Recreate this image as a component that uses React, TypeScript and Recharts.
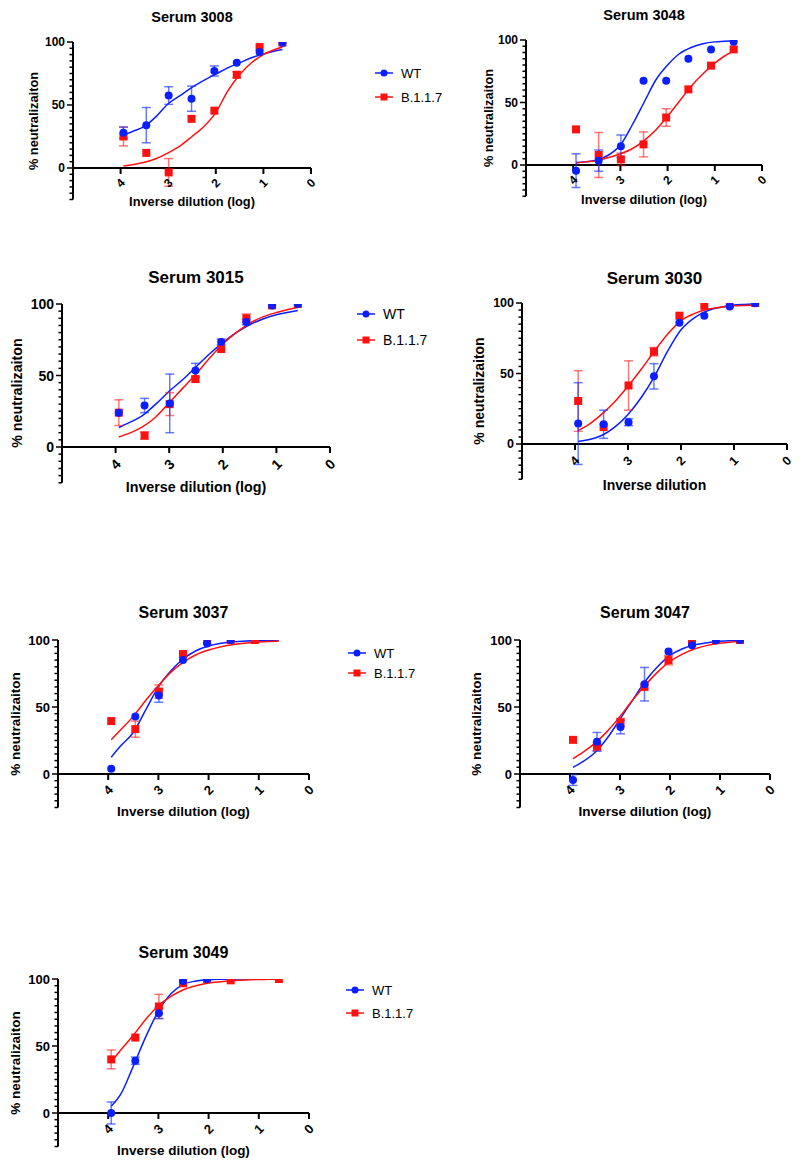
import React from "react";
import {
  ComposedChart,
  XAxis,
  YAxis,
  Line,
  Scatter,
  ErrorBar,
  ReferenceLine,
  ReferenceDot,
} from "recharts";

const FONT = "'Liberation Sans', Arial, sans-serif";
const BLUE = "#0a1eff";
const RED = "#ff1010";
const BLUE_ERR = "rgba(20,50,255,0.65)";
const RED_ERR = "rgba(255,30,30,0.6)";

// log10 of the inverse dilution for each well
const doseX = [3.94, 3.46, 2.99, 2.51, 2.03, 1.56, 1.08, 0.6];
const fitX = [3.94, 3.75, 3.5, 3.25, 3.0, 2.75, 2.5, 2.25, 2.0, 1.75, 1.5, 1.25, 1.0, 0.8, 0.6];
const xTicks = [4, 3, 2, 1, 0];
const yTicks = [-25, -20, -15, -10, -5, 0, 5, 10, 15, 20, 25, 30, 35, 40, 45, 50, 55, 60, 65, 70, 75, 80, 85, 90, 95, 100];
const seriesNames = ["WT", "B.1.1.7"];

// Serum 3008
const wt3008 = [28, 34, 57.5, 55, 77, 83.5, 92, 99.5];
const wt3008Err = [4.5, 14, 7, 10, 4, null, null, null];
const b3008 = [25, 12, -3.5, 39, 45.5, 74, 96, 99.5];
const b3008Err = [7.5, null, 11, null, null, 2.5, null, null];
const wt3008Fit = [26, 29, 33, 41, 51, 57.5, 64, 69.5, 74.5, 79.5, 83.5, 87.5, 90.5, 92.5, 94];
const b3008Fit = [1.5, 2.5, 4.5, 7.5, 12, 17.5, 25, 33, 44, 61, 74, 83.5, 90, 93.5, 96];

// Serum 3048
const wt3048 = [-4.5, 3.5, 15, 67.5, 67.5, 85, 92.5, 98.7];
const wt3048Err = [13.5, 8.5, 9, null, null, null, null, null];
const b3048 = [28.5, 8, 4.5, 16.5, 38, 60.5, 79.5, 92.5];
const b3048Err = [null, 18, 5, 10, 7, null, null, null];
const wt3048Fit = [2, 2.5, 4, 8, 16, 32, 50, 68, 80, 89, 94, 97, 98.5, 99, 99.5];
const b3048Fit = [1.5, 2.5, 3.5, 6, 9, 13, 19.5, 28, 39, 51, 63, 73, 81.5, 87, 91.5];

// Serum 3015
const wt3015 = [24, 29, 30.5, 53.5, 73.5, 87.5, 99, 100];
const wt3015Err = [null, 5, 20.5, 5, 2, 2, null, null];
const b3015 = [24, 8, 30, 47.5, 68.5, 90, 99, 100];
const b3015Err = [9, 2.5, 8, 2, null, 3, null, null];
const wt3015Fit = [13.6, 17, 22, 30, 39, 47, 56, 65, 73, 80, 85.5, 89.5, 92.5, 94, 95.5];
const b3015Fit = [7, 9.5, 14, 21, 31, 41, 51, 62, 72, 80, 86.5, 91, 94, 96, 97.5];

// Serum 3030
const wt3030 = [14.5, 14, 15.5, 48, 86, 91, 97.5, 99.8];
const wt3030Err = [29, 10, 2.5, 9, null, null, null, null];
const b3030 = [30.5, 12, 41.5, 65.5, 91, 98, 99.3, 100];
const b3030Err = [21.5, null, 17.5, 3, null, null, null, null];
const wt3030Fit = [1.8, 3, 6, 12, 21, 33, 48, 66, 81, 89.5, 94.5, 97, 98.5, 99, 99.4];
const b3030Fit = [9.5, 13.5, 21, 30, 41, 53, 66, 78, 87.5, 92.5, 95.5, 97, 98, 98.3, 98.5];

// Serum 3037
const wt3037 = [4, 43, 58.5, 85, 97.3, 100, null, null];
const wt3037Err = [null, null, 5, null, null, null, null, null];
const b3037 = [39.5, 33.5, 61.5, 89.5, 99.5, 100, 100, null];
const b3037Err = [null, 6, 5, null, null, null, null, null];
const wt3037Fit = [12.5, 21, 31, 48, 65, 77, 86, 92, 95.5, 97.5, 98.7, 99.3, 99.6, 99.8, 99.9];
const b3037Fit = [25.5, 33, 43, 55, 66, 76, 83.5, 89, 92.5, 95, 96.7, 97.8, 98.5, 98.9, 99.2];

// Serum 3047
const wt3047 = [-4.5, 24, 35, 67, 91.5, 96, 99.8, 100];
const wt3047Err = [4, 7, 5, 12.5, null, null, null, null];
const b3047 = [25.5, 20.5, 38.5, 65, 85, 98, 100, 100];
const b3047Err = [null, 3, 3, null, 3.5, null, null, null];
const wt3047Fit = [5, 9, 16, 27, 41, 55, 69, 80, 88.5, 93.5, 96.5, 98, 99, 99.4, 99.6];
const b3047Fit = [11.5, 16, 23, 32, 43, 55, 66, 76, 84, 89.5, 93.5, 96, 97.5, 98.3, 98.8];

// Serum 3049
const wt3049 = [0, 39, 74.5, 98.5, 100, null, null, null];
const wt3049Err = [8.2, 2.7, 4, null, null, null, null, null];
const b3049 = [40, 56.3, 79.5, 96.8, 100, 99, null, 100];
const b3049Err = [7, null, 9, null, null, null, null, null];
const wt3049Fit = [5, 14, 35, 57, 76, 89, 96, 98.5, 99.5, 99.8, 99.9, 100, 100, 100, 100];
const b3049Fit = [38, 47, 58, 70, 80, 87, 92, 95, 97, 98, 98.8, 99.3, 99.6, 99.8, 100];

const toPoints = (ys: (number | null)[], errs: (number | null)[]) =>
  doseX
    .map((x, i) => ({ x, y: ys[i], err: errs[i] }))
    .filter((p) => p.y != null);

const toFit = (ys: number[]) => fitX.map((x, i) => ({ x, y: ys[i] }));

const panels = [
  {
    title: "Serum 3008", xLabel: "Inverse dilution (log)",
    wt: wt3008, wtErr: wt3008Err, b: b3008, bErr: b3008Err, wtFit: wt3008Fit, bFit: b3008Fit,
    pl: 73, pr: 311, pt: 42, pz: 168, titleY: 17, titleFs: 14.5, labelFs: 12.8, tickFs: 12,
    yLabelX: 34, xLabelY: 202, legend: { lx: 375, y1: 73, y2: 97, fs: 13 },
  },
  {
    title: "Serum 3048", xLabel: "Inverse dilution (log)",
    wt: wt3048, wtErr: wt3048Err, b: b3048, bErr: b3048Err, wtFit: wt3048Fit, bFit: b3048Fit,
    pl: 526, pr: 762, pt: 40, pz: 165, titleY: 15, titleFs: 14.5, labelFs: 12.8, tickFs: 12,
    yLabelX: 489, xLabelY: 200,
  },
  {
    title: "Serum 3015", xLabel: "Inverse dilution (log)",
    wt: wt3015, wtErr: wt3015Err, b: b3015, bErr: b3015Err, wtFit: wt3015Fit, bFit: b3015Fit,
    pl: 62, pr: 330, pt: 304, pz: 447, titleY: 277, titleFs: 17, labelFs: 14.3, tickFs: 14,
    yLabelX: 17, xLabelY: 487, legend: { lx: 357, y1: 314, y2: 340, fs: 14 },
  },
  {
    title: "Serum 3030", xLabel: "Inverse dilution",
    wt: wt3030, wtErr: wt3030Err, b: b3030, bErr: b3030Err, wtFit: wt3030Fit, bFit: b3030Fit,
    pl: 522, pr: 787, pt: 303, pz: 444, titleY: 278, titleFs: 17, labelFs: 14, tickFs: 12.5,
    yLabelX: 479, xLabelY: 485,
  },
  {
    title: "Serum 3037", xLabel: "Inverse dilution (log)",
    wt: wt3037, wtErr: wt3037Err, b: b3037, bErr: b3037Err, wtFit: wt3037Fit, bFit: b3037Fit,
    pl: 58, pr: 309, pt: 640, pz: 774, titleY: 613, titleFs: 16, labelFs: 13.5, tickFs: 13,
    yLabelX: 16, xLabelY: 812, legend: { lx: 348, y1: 653, y2: 673, fs: 13 },
  },
  {
    title: "Serum 3047", xLabel: "Inverse dilution (log)",
    wt: wt3047, wtErr: wt3047Err, b: b3047, bErr: b3047Err, wtFit: wt3047Fit, bFit: b3047Fit,
    pl: 520, pr: 770, pt: 640, pz: 774, titleY: 613, titleFs: 16, labelFs: 13.5, tickFs: 13,
    yLabelX: 477, xLabelY: 812,
  },
  {
    title: "Serum 3049", xLabel: "Inverse dilution (log)",
    wt: wt3049, wtErr: wt3049Err, b: b3049, bErr: b3049Err, wtFit: wt3049Fit, bFit: b3049Fit,
    pl: 58, pr: 309, pt: 979, pz: 1113, titleY: 953, titleFs: 16, labelFs: 13.5, tickFs: 13,
    yLabelX: 16, xLabelY: 1151, legend: { lx: 346, y1: 990, y2: 1013, fs: 13 },
  },
];

const YTick = (props: any) => {
  const { x, y, payload, fs } = props;
  const v = payload.value;
  const major = v % 50 === 0;
  return (
    <g>
      <line x1={x} x2={x - (major ? 6 : 3.5)} y1={y} y2={y} stroke="#000" strokeWidth={1.5} />
      {major && (
        <text x={x - 8} y={y} textAnchor="end" dominantBaseline="central"
          fontSize={fs} fontWeight="bold" fontFamily={FONT} fill="#000">
          {v}
        </text>
      )}
    </g>
  );
};

const XTick = ({ cx, cy, value, fs, off }: any) => (
  <g>
    <line x1={cx} x2={cx} y1={cy} y2={cy + 6} stroke="#000" strokeWidth={2} />
    <text x={cx} y={cy + off} textAnchor="middle" dominantBaseline="central"
      transform={`rotate(-45 ${cx} ${cy + off})`}
      fontSize={fs} fontWeight="bold" fontFamily={FONT} fill="#000">
      {value}
    </text>
  </g>
);

const circleShape = (p: any) => <circle cx={p.cx} cy={p.cy} r={4} fill={BLUE} />;
const squareShape = (p: any) => <rect x={p.cx - 4} y={p.cy - 4} width={8} height={8} fill={RED} />;

const SeriesLegend = ({ lx, y1, y2, fs }: any) => (
  <svg style={{ position: "absolute", left: lx - 2, top: y1 - 12 }} width={110} height={y2 - y1 + 24}>
    <line x1={2} x2={20} y1={12} y2={12} stroke={BLUE} strokeWidth={1.5} />
    <circle cx={11} cy={12} r={3.5} fill={BLUE} />
    <text x={28} y={12} dominantBaseline="central" fontSize={fs} fontFamily={FONT} fill="#000">{seriesNames[0]}</text>
    <line x1={2} x2={20} y1={12 + y2 - y1} y2={12 + y2 - y1} stroke={RED} strokeWidth={1.5} />
    <rect x={7.5} y={8.5 + y2 - y1} width={7} height={7} fill={RED} />
    <text x={28} y={12 + y2 - y1} dominantBaseline="central" fontSize={fs} fontFamily={FONT} fill="#000">{seriesNames[1]}</text>
  </svg>
);

const Panel = ({ p }: any) => {
  const pxPerUnit = (p.pz - p.pt) / 100;
  const pb = p.pz + 25 * pxPerUnit;
  const cx = (p.pl + p.pr) / 2;
  const off = pxPerUnit * 12;
  const text = (extra: any) => ({
    position: "absolute" as const,
    whiteSpace: "nowrap" as const,
    fontFamily: FONT,
    fontWeight: "bold" as const,
    lineHeight: 1,
    color: "#000",
    ...extra,
  });
  return (
    <>
      <div style={text({ left: cx, top: p.titleY, fontSize: p.titleFs, transform: "translate(-50%,-50%)" })}>
        {p.title}
      </div>
      <div style={text({ left: p.yLabelX, top: (p.pt + pb) / 2, fontSize: p.labelFs, transform: "translate(-50%,-50%) rotate(-90deg)" })}>
        % neutralizaiton
      </div>
      <div style={text({ left: cx, top: p.xLabelY, fontSize: p.labelFs, transform: "translate(-50%,-50%)" })}>
        {p.xLabel}
      </div>
      <div style={{ position: "absolute", left: p.pl - 60, top: p.pt - 10 }}>
        <ComposedChart
          width={p.pr - p.pl + 80}
          height={pb - p.pt + 30}
          margin={{ top: 10, right: 20, bottom: 20, left: 30 }}
        >
          <XAxis type="number" dataKey="x" domain={[0, 5]} reversed hide allowDataOverflow />
          <YAxis
            type="number"
            dataKey="y"
            domain={[-25, 100]}
            ticks={yTicks}
            interval={0}
            width={30}
            allowDataOverflow
            axisLine={{ stroke: "#000", strokeWidth: 2 }}
            tickLine={false}
            tickSize={0}
            tickMargin={0}
            tick={<YTick fs={p.tickFs} />}
          />
          <ReferenceLine y={0} stroke="#000" strokeWidth={2} />
          {xTicks.map((t) => (
            <ReferenceDot
              key={t}
              x={t}
              y={0}
              r={0}
              shape={(s: any) => <XTick cx={s.cx} cy={s.cy} value={t} fs={p.tickFs} off={off} />}
            />
          ))}
          <Line data={toFit(p.wtFit)} dataKey="y" type="monotone" stroke={BLUE} strokeWidth={1.5} dot={false} isAnimationActive={false} />
          <Line data={toFit(p.bFit)} dataKey="y" type="monotone" stroke={RED} strokeWidth={1.5} dot={false} isAnimationActive={false} />
          <Scatter data={toPoints(p.b, p.bErr)} dataKey="y" fill={RED} shape={squareShape} isAnimationActive={false}>
            <ErrorBar dataKey="err" direction="y" width={4.5} stroke={RED_ERR} strokeWidth={1.5} />
          </Scatter>
          <Scatter data={toPoints(p.wt, p.wtErr)} dataKey="y" fill={BLUE} shape={circleShape} isAnimationActive={false}>
            <ErrorBar dataKey="err" direction="y" width={4.5} stroke={BLUE_ERR} strokeWidth={1.5} />
          </Scatter>
        </ComposedChart>
      </div>
      {p.legend && <SeriesLegend {...p.legend} />}
    </>
  );
};

export default function App() {
  return (
    <div style={{ position: "absolute", left: 0, top: 0, width: 800, height: 1169, overflow: "hidden", background: "#fff" }}>
      {panels.map((p) => (
        <Panel key={p.title} p={p} />
      ))}
    </div>
  );
}
